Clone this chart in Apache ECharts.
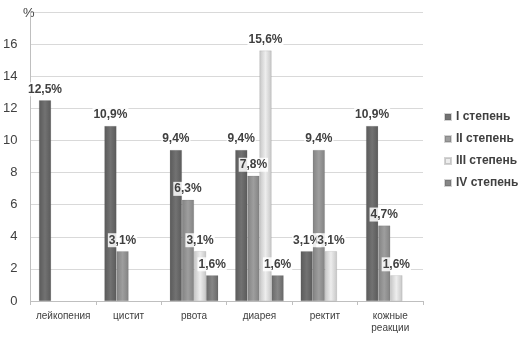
<!DOCTYPE html>
<html><head><meta charset="utf-8">
<script src="https://cdn.jsdelivr.net/npm/echarts@6/dist/echarts.min.js"></script>
<style>html,body{margin:0;padding:0;background:#fff}#c{width:532px;height:339px}</style>
</head><body><div id="c"></div>
<script>
const categories = ['лейкопения', 'цистит', 'рвота', 'диарея', 'ректит', 'кожные\nреакции'];
const seriesNames = ['I степень', 'II степень', 'III степень', 'IV степень'];
const deg1 = [12.5, 10.9, 9.4, 9.4, 3.1, 10.9];
const deg2 = [null, 3.1, 6.3, 7.8, 9.4, 4.7];
const deg3 = [null, null, 3.1, 15.6, 3.1, 1.6];
const deg4 = [null, null, 1.6, 1.6, null, null];
const yTicks = [0, 2, 4, 6, 8, 10, 12, 14, 16];

const colors = [
  ['#5a5a5a', '#727272', '#5a5a5a'],
  ['#828282', '#9e9e9e', '#828282'],
  ['#c6c6c6', '#ededed', '#c6c6c6'],
  ['#686868', '#868686', '#686868']
];
function grad(c) {
  return new echarts.graphic.LinearGradient(0, 0, 1, 0, [
    {offset: 0, color: c[0]}, {offset: 0.5, color: c[1]}, {offset: 1, color: c[2]}
  ]);
}
const FONT = 'Liberation Sans';
const data = [deg1, deg2, deg3, deg4];
const chart = echarts.init(document.getElementById('c'));
chart.setOption({
  animation: false,
  grid: {left: 30, right: 109, top: 12, bottom: 38},
  legend: {
    orient: 'vertical', left: 439, top: 105, itemGap: 8,
    itemWidth: 6, itemHeight: 6, icon: 'rect',
    textStyle: {fontFamily: FONT, fontWeight: 'bold', fontSize: 12, color: '#404040', lineHeight: 14, padding: [0, 0, 0, 0]},
    data: seriesNames.map((n, i) => ({name: n, itemStyle: {color: colors[i][1]}}))
  },
  xAxis: {
    type: 'category', data: categories,
    axisLine: {lineStyle: {color: '#bfbfbf'}},
    axisTick: {show: true, length: 4, lineStyle: {color: '#bfbfbf'}},
    axisLabel: {interval: 0, fontFamily: FONT, fontSize: 10, color: '#404040', margin: 9, lineHeight: 12}
  },
  yAxis: {
    type: 'value', min: 0, max: 18, interval: 2,
    name: '%', nameLocation: 'end', nameGap: -8,
    nameTextStyle: {fontFamily: FONT, fontSize: 13, color: '#404040', align: 'right', padding: [0, -4, 0, 0]},
    axisLine: {show: true, lineStyle: {color: '#bfbfbf'}},
    axisTick: {show: false},
    splitLine: {lineStyle: {color: '#d9d9d9'}},
    axisLabel: {
      fontFamily: FONT, fontSize: 13, color: '#404040', margin: 13,
      formatter: v => yTicks.includes(v) ? String(v) : ''
    }
  },
  series: data.map((d, i) => ({
    name: seriesNames[i], type: 'bar', data: d,
    barGap: '0%', barCategoryGap: '26%',
    itemStyle: {color: grad(colors[i]), borderColor: 'rgba(80,80,80,0.25)', borderWidth: 0.5},
    label: {
      show: true, position: 'top', distance: 4,
      fontFamily: FONT, fontWeight: 'bold', fontSize: 12, color: '#404040',
      backgroundColor: 'rgba(255,255,255,0.85)', padding: [1, 1],
      formatter: p => p.value == null ? '' : p.value.toFixed(1).replace('.', ',') + '%'
    }
  }))
});
</script></body></html>
